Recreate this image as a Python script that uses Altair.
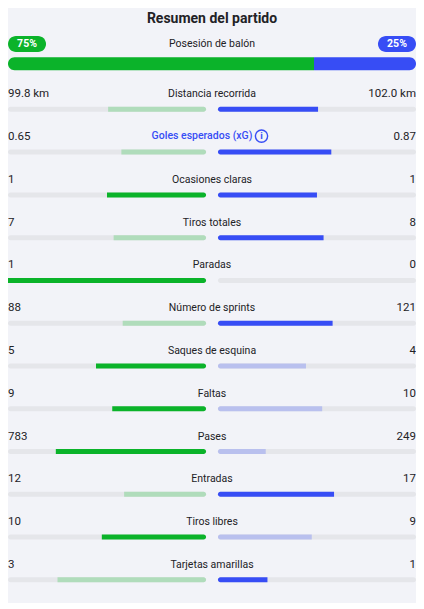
import altair as alt
import pandas as pd

# ---------------- data ----------------
title_text = "Resumen del partido"
possession_label = "Posesión de balón"
possession_home = 75
possession_away = 25

stat_names = [
    "Distancia recorrida", "Goles esperados (xG)", "Ocasiones claras",
    "Tiros totales", "Paradas", "Número de sprints", "Saques de esquina",
    "Faltas", "Pases", "Entradas", "Tiros libres", "Tarjetas amarillas",
]
home_values = [99.8, 0.65, 1, 7, 1, 88, 5, 9, 783, 12, 10, 3]
away_values = [102.0, 0.87, 1, 8, 0, 121, 4, 10, 249, 17, 9, 1]
value_formats = ["{:.1f} km", "{:.2f}"] + ["{:.0f}"] * 10
lower_is_better = [False] * 7 + [True, False, False, False, True]
highlighted_stat = "Goles esperados (xG)"

# ---------------- layout / style ----------------
FONT = "Roboto"
TEXT = "#222226"
BLUE = "#374df5"
HALF = 1.03        # half-width of the scale domain (one bar = 1 unit)
GAP = 0.03         # half gap between the two bars
PILL_W = 0.192
W, H = 408, 595
PX_PER_ROW = 43.5
TOP = 11
Y0 = (TOP - 109) / PX_PER_ROW
Y1 = Y0 + H / PX_PER_ROW
TITLE_ROW = (17 - 109) / PX_PER_ROW
PILL_ROW = (42.5 - 109) / PX_PER_ROW
POSS_ROW = (62.5 - 109) / PX_PER_ROW

tones = ["home_dark", "home_light", "away_dark", "away_light", "track"]
tone_colors = ["#0bb32a", "#b0dcbb", BLUE, "#b9c0ee", "#e5e6ea"]

xs = alt.Scale(domain=[-HALF, HALF], nice=False, zero=False)
ys = alt.Scale(domain=[Y0, Y1], reverse=True, nice=False, zero=False)
cs = alt.Scale(domain=tones, range=tone_colors)

# ---------------- tables ----------------
track_rows, left_rows, right_rows, label_rows = [], [], [], []
for i, (name, h, a, fmt, low) in enumerate(
        zip(stat_names, home_values, away_values, value_formats, lower_is_better)):
    total = h + a
    hs = h / total if total else 0
    as_ = a / total if total else 0
    home_wins = (h < a) if low else (h > a)
    away_wins = (a < h) if low else (a > h)
    tie = h == a
    track_rows.append(dict(row=i, x=-HALF, x2=-GAP, tone="track"))
    track_rows.append(dict(row=i, x=GAP, x2=HALF, tone="track"))
    if hs > 0:
        left_rows.append(dict(row=i, x=-GAP - hs, x2=-GAP,
                              tone="home_dark" if (home_wins or tie) else "home_light"))
    if as_ > 0:
        right_rows.append(dict(row=i, x=GAP, x2=GAP + as_,
                               tone="away_dark" if (away_wins or tie) else "away_light"))
    label_rows.append(dict(row=i, name=name, home=fmt.format(h), away=fmt.format(a),
                           hl=name == highlighted_stat))

track_df = pd.DataFrame(track_rows)
left_df = pd.DataFrame(left_rows)
right_df = pd.DataFrame(right_rows)
labels_df = pd.DataFrame(label_rows)

poss_total = possession_home + possession_away
poss_split = -HALF + 2 * HALF * possession_home / poss_total
poss_home_df = pd.DataFrame([dict(row=POSS_ROW, x=-HALF, x2=poss_split, tone="home_dark")])
poss_away_df = pd.DataFrame([dict(row=POSS_ROW, x=poss_split, x2=HALF, tone="away_dark")])
pill_df = pd.DataFrame([
    dict(row=PILL_ROW, x=-HALF, x2=-HALF + PILL_W, xc=-HALF + PILL_W / 2,
         tone="home_dark", txt=f"{possession_home}%"),
    dict(row=PILL_ROW, x=HALF - PILL_W, x2=HALF, xc=HALF - PILL_W / 2,
         tone="away_dark", txt=f"{possession_away}%"),
])
head_df = pd.DataFrame([dict(row=TITLE_ROW, x=0, txt=title_text)])
poss_label_df = pd.DataFrame([dict(row=PILL_ROW, x=0, txt=possession_label)])


def bar_enc():
    return dict(
        x=alt.X("x:Q", scale=xs, axis=None),
        x2="x2:Q",
        y=alt.Y("row:Q", scale=ys, axis=None),
        color=alt.Color("tone:N", scale=cs, legend=None),
    )


track = alt.Chart(track_df).mark_bar(size=5, cornerRadius=2.5).encode(**bar_enc())
left = alt.Chart(left_df).mark_bar(
    size=5, cornerRadiusTopRight=2.5, cornerRadiusBottomRight=2.5).encode(**bar_enc())
right = alt.Chart(right_df).mark_bar(
    size=5, cornerRadiusTopLeft=2.5, cornerRadiusBottomLeft=2.5).encode(**bar_enc())

poss_home = alt.Chart(poss_home_df).mark_bar(
    size=13, cornerRadiusTopLeft=6.5, cornerRadiusBottomLeft=6.5).encode(**bar_enc())
poss_away = alt.Chart(poss_away_df).mark_bar(
    size=13, cornerRadiusTopRight=6.5, cornerRadiusBottomRight=6.5).encode(**bar_enc())
pills = alt.Chart(pill_df).mark_bar(size=16, cornerRadius=8).encode(**bar_enc())
pill_text = alt.Chart(pill_df).mark_text(
    font=FONT, fontSize=10.5, fontWeight="bold", color="white", baseline="middle"
).encode(x=alt.X("xc:Q", scale=xs, axis=None), y=alt.Y("row:Q", scale=ys, axis=None),
         text="txt:N")

title = alt.Chart(head_df).mark_text(
    font=FONT, fontSize=14, fontWeight="bold", color=TEXT, baseline="middle"
).encode(x=alt.X("x:Q", scale=xs, axis=None), y=alt.Y("row:Q", scale=ys, axis=None),
         text="txt:N")
poss_label = alt.Chart(poss_label_df).mark_text(
    font=FONT, fontSize=10.5, color=TEXT, baseline="middle"
).encode(x=alt.X("x:Q", scale=xs, axis=None), y=alt.Y("row:Q", scale=ys, axis=None),
         text="txt:N")

base_lbl = alt.Chart(labels_df)
home_txt = base_lbl.mark_text(
    font=FONT, fontSize=11.5, color=TEXT, align="left", baseline="middle", dy=-15
).encode(x=alt.datum(-HALF, scale=xs), y=alt.Y("row:Q", scale=ys, axis=None), text="home:N")
away_txt = base_lbl.mark_text(
    font=FONT, fontSize=11.5, color=TEXT, align="right", baseline="middle", dy=-15
).encode(x=alt.datum(HALF, scale=xs), y=alt.Y("row:Q", scale=ys, axis=None), text="away:N")
name_txt = base_lbl.transform_filter("!datum.hl").mark_text(
    font=FONT, fontSize=10.5, color=TEXT, align="center", baseline="middle", dy=-15
).encode(x=alt.datum(0, scale=xs), y=alt.Y("row:Q", scale=ys, axis=None), text="name:N")
hl_txt = base_lbl.transform_filter("datum.hl").mark_text(
    font=FONT, fontSize=10.5, color=BLUE, fontWeight=500, align="center",
    baseline="middle", dy=-16, dx=-10
).encode(x=alt.datum(0, scale=xs), y=alt.Y("row:Q", scale=ys, axis=None), text="name:N")
info_circle = base_lbl.transform_filter("datum.hl").mark_point(
    shape="circle", filled=False, size=150, strokeWidth=1.4, color=BLUE, opacity=1,
    yOffset=-16
).encode(x=alt.datum(0.25, scale=xs), y=alt.Y("row:Q", scale=ys, axis=None))
info_i = base_lbl.transform_filter("datum.hl").mark_text(
    font=FONT, fontSize=9.5, fontWeight="bold", color=BLUE, baseline="middle", dy=-16
).encode(x=alt.datum(0.25, scale=xs), y=alt.Y("row:Q", scale=ys, axis=None),
         text=alt.value("i"))

chart = alt.layer(
    track, left, right, poss_home, poss_away, pills, pill_text, title, poss_label,
    home_txt, away_txt, name_txt, hl_txt, info_circle, info_i,
).properties(
    width=W, height=H, padding=0, background="#f2f3f8"
).configure_view(stroke=None)

chart.save("out.html", embed_options={"renderer": "svg", "actions": False})
